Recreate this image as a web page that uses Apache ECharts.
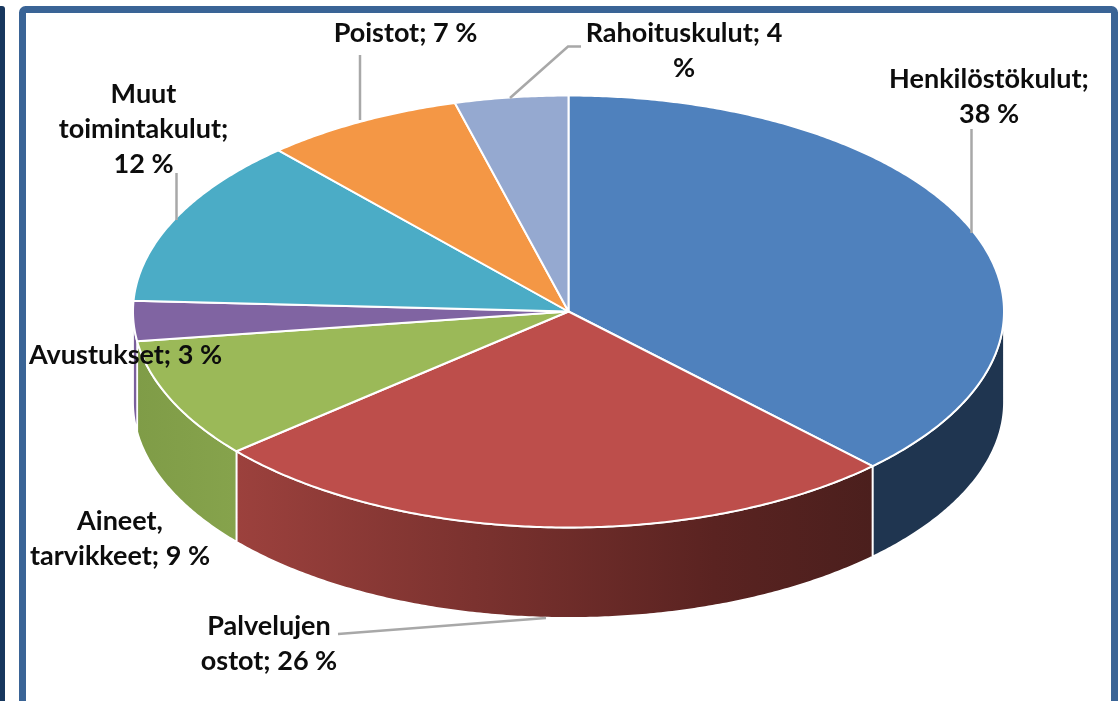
<!DOCTYPE html>
<html>
<head>
<meta charset="utf-8">
<style>html,body{margin:0;padding:0;background:#fff}#c{width:1120px;height:701px}</style>
<script src="https://cdn.jsdelivr.net/npm/echarts@6/dist/echarts.min.js"></script>
</head>
<body>
<div id="c"></div>
<script>
const categories = ['Henkilöstökulut','Palvelujen ostot','Aineet, tarvikkeet','Avustukset','Muut toimintakulut','Poistot','Rahoituskulut'];
const values = [37.7, 26.1, 9.0, 3.0, 12.6, 7.4, 4.2];
const labels = ['Henkilöstökulut;\n38 %','Palvelujen\nostot; 26 %','Aineet,\ntarvikkeet; 9 %','Avustukset; 3 %','Muut\ntoimintakulut;\n12 %','Poistot; 7 %','Rahoituskulut; 4\n%'];
const topColors = ['#4f81bd','#bd4e4b','#9bb958','#8064a2','#4bacc6','#f49745','#95a9d0'];

const cx = 568.5, cy = 311.5, rx = 435.5, ry = 216, depth = 90.5;
const total = values.reduce((a, b) => a + b, 0);
const pt = (deg, dy) => {
  const t = deg * Math.PI / 180;
  return [cx + rx * Math.sin(t), cy - ry * Math.cos(t) + (dy || 0)];
};
const arc = (a, b, dy) => {
  const out = [], n = Math.max(2, Math.ceil(Math.abs(b - a) * 2));
  for (let i = 0; i <= n; i++) out.push(pt(a + (b - a) * i / n, dy));
  return out;
};
const span = i => {
  let s = 0;
  for (let k = 0; k < i; k++) s += values[k];
  return [s / total * 360, (s + values[i]) / total * 360];
};
const wallFill = [
  '#1f3550',
  () => new echarts.graphic.LinearGradient(0, 0, 1, 0, [{offset: 0, color: '#9c413d'}, {offset: 0.75, color: '#5a2321'}, {offset: 1, color: '#4b1f1d'}]),
  () => new echarts.graphic.LinearGradient(0, 0, 1, 0, [{offset: 0, color: '#7f9c47'}, {offset: 1, color: '#86a34c'}]),
  '#7a5f9c'
];

function renderWall(params, api) {
  const i = params.dataIndex, [a0, b0] = span(i);
  const a = Math.max(a0, 90), b = Math.min(b0, 270);
  if (b <= a) return null;
  const f = wallFill[i];
  return {
    type: 'polygon',
    shape: {points: arc(a, b, 0).concat(arc(b, a, depth))},
    style: {fill: typeof f === 'function' ? f() : f, stroke: '#fff', lineWidth: 1.8}
  };
}
function renderTop(params, api) {
  const i = params.dataIndex, [a, b] = span(i);
  return {
    type: 'polygon',
    shape: {points: [[cx, cy]].concat(arc(a, b, 0))},
    style: {fill: topColors[i], stroke: '#fff', lineWidth: 2, lineJoin: 'round'}
  };
}

const font = {fontFamily: 'Lato', fontWeight: 'bold', fontSize: 27, lineHeight: 35, fill: '#0d0d0d', textAlign: 'center', textVerticalAlign: 'top'};
const labelPos = [[989, 62], [269, 609], [120, 504], [125.5, 338], [143.5, 76.5], [405.5, 15.5], [684, 15.5]];
const leaders = [
  [[971.5, 129], [971.5, 233]],
  [[338, 634], [546, 618]],
  [[176.5, 173], [176.5, 220]],
  [[360, 55], [360, 120]],
  [[581, 46.5], [568, 46.5], [510, 98]]
];

const chart = echarts.init(document.getElementById('c'), null, {renderer: 'canvas'});
chart.setOption({
  animation: false,
  backgroundColor: '#fff',
  graphic: {elements: [
    {type: 'rect', z: 1, shape: {x: -10, y: 6, width: 15, height: 720, r: 3}, style: {fill: '#17375e'}},
    {type: 'rect', z: 1, shape: {x: 22.5, y: 9.5, width: 1092, height: 730, r: 3}, style: {fill: '#fff', stroke: '#3a6496', lineWidth: 7}},
    ...leaders.map(p => ({type: 'polyline', z: 20, shape: {points: p}, style: {stroke: '#a8a8a8', lineWidth: 2.5, fill: null}})),
    ...labels.map((t, i) => ({type: 'text', z: 30, x: labelPos[i][0], y: labelPos[i][1], style: Object.assign({text: t}, font)}))
  ]},
  series: [
    {type: 'custom', name: 'sivut', coordinateSystem: 'none', z: 5, silent: true, data: values.map((v, i) => ({name: categories[i], value: v})), renderItem: renderWall},
    {type: 'custom', name: 'kulut', coordinateSystem: 'none', z: 6, silent: true, data: values.map((v, i) => ({name: categories[i], value: v})), renderItem: renderTop}
  ]
});
</script>
</body>
</html>
